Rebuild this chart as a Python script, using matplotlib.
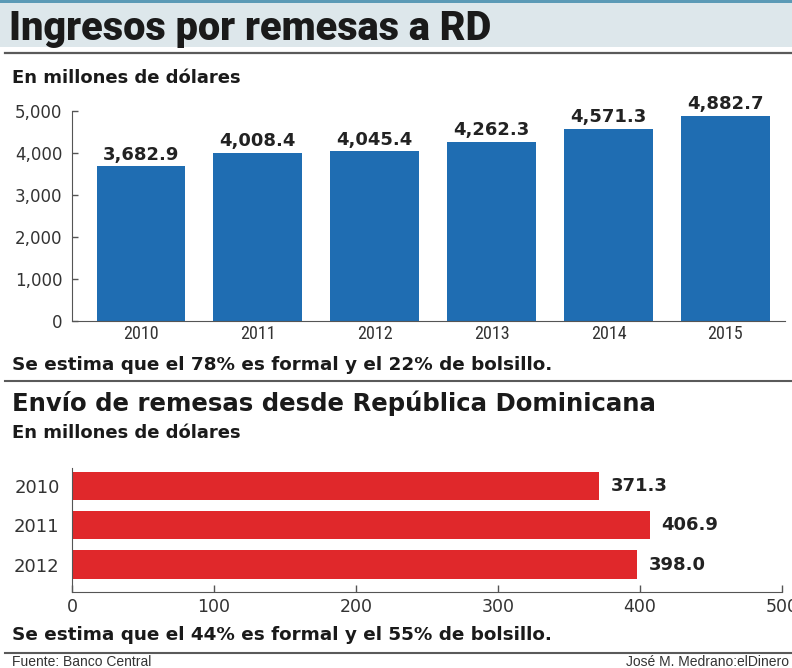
import matplotlib
matplotlib.use("Agg")
from matplotlib import pyplot as plt
from matplotlib.patches import Rectangle
from matplotlib.lines import Line2D

# datos
years_in = ["2010", "2011", "2012", "2013", "2014", "2015"]
values_in = [3682.9, 4008.4, 4045.4, 4262.3, 4571.3, 4882.7]
years_out = ["2010", "2011", "2012"]
values_out = [371.3, 406.9, 398.0]
yticks_in = [0, 1000, 2000, 3000, 4000, 5000]
xticks_out = [0, 100, 200, 300, 400, 500]

plt.rcParams["font.family"] = ["DejaVu Sans"]
HEAD = ["DejaVu Sans"]
NUM = ["DejaVu Sans"]
COND = ["Roboto Condensed", "DejaVu Sans"]
FOOT = ["Liberation Sans", "DejaVu Sans"]
INK = "#1a1a1a"

W, H = 792, 668
fig = plt.figure(figsize=(W / 100, H / 100), dpi=100)
fig.patch.set_facecolor("white")

def fy(py):
    return 1 - py / H

def fx(px):
    return px / W

# cabecera
fig.patches.append(Rectangle((0, fy(47)), 1, fy(3) - fy(47), transform=fig.transFigure,
                             facecolor="#dde7eb", edgecolor="none", zorder=0))
fig.patches.append(Rectangle((0, fy(3)), 1, fy(0) - fy(3), transform=fig.transFigure,
                             facecolor="#5b9ab6", edgecolor="none", zorder=0))
fig.text(fx(9), fy(40), "Ingresos por remesas a RD", fontsize=28.5, fontweight="black",
         family=["Roboto", "DejaVu Sans"], color=INK, va="baseline", ha="left")
for ly, lw in [(53, 1.6), (381, 1.5), (653, 1.5)]:
    fig.add_artist(Line2D([fx(5), 1], [fy(ly), fy(ly)], transform=fig.transFigure,
                          color="#5a5a5a", lw=lw))

fig.text(fx(12), fy(83), "En millones de dólares", fontsize=13, fontweight="bold",
         family=HEAD, color=INK, va="baseline")

# grafico superior
ax1 = fig.add_axes([fx(72), fy(321), fx(785) - fx(72), fy(111) - fy(321)])
x = range(len(years_in))
ax1.bar(x, values_in, width=0.76, color="#1f6db2")
ax1.set_xlim(-0.59, 5.51)
ax1.set_ylim(0, 5000)
ax1.set_yticks(yticks_in)
ax1.set_yticklabels([f"{v:,}" for v in yticks_in], fontsize=12, color="#333333", family=NUM)
ax1.set_xticks(list(x))
ax1.set_xticklabels(years_in, fontsize=13, color="#333333", family=COND)
ax1.tick_params(axis="y", direction="in", length=4, width=1, color="#555555", pad=7)
ax1.tick_params(axis="x", length=0, pad=3)
for s in ["top", "right"]:
    ax1.spines[s].set_visible(False)
ax1.spines["left"].set_color("#555555")
ax1.spines["bottom"].set_color("#555555")
for i, v in enumerate(values_in):
    ax1.text(i, v + 60, f"{v:,.1f}", ha="center", va="bottom", fontsize=13,
             fontweight="bold", family=NUM, color="#222222", clip_on=False)

fig.text(fx(12), fy(370), "Se estima que el 78% es formal y el 22% de bolsillo.",
         fontsize=13.2, fontweight="bold", family=HEAD, color=INK, va="baseline")

fig.text(fx(12), fy(411), "Envío de remesas desde República Dominicana", fontsize=17.6,
         fontweight="bold", family=HEAD, color=INK, va="baseline")
fig.text(fx(12), fy(438), "En millones de dólares", fontsize=13, fontweight="bold",
         family=HEAD, color=INK, va="baseline")

# grafico inferior
ax2 = fig.add_axes([fx(72), fy(592), fx(782) - fx(72), fy(468) - fy(592)])
y = range(len(years_out))
ax2.barh(y, values_out, height=0.72, color="#e0282b")
ax2.set_ylim(2.7, -0.46)
ax2.set_xlim(0, 500)
ax2.set_yticks(list(y))
ax2.set_yticklabels(years_out, fontsize=13, color="#333333", family=NUM)
ax2.set_xticks(xticks_out)
ax2.set_xticklabels([str(v) for v in xticks_out], fontsize=12.5, color="#333333", family=NUM)
ax2.tick_params(axis="y", length=0, pad=9)
ax2.tick_params(axis="x", direction="in", length=5, width=1, color="#555555", pad=4)
for s in ["top", "right"]:
    ax2.spines[s].set_visible(False)
ax2.spines["left"].set_color("#555555")
ax2.spines["bottom"].set_color("#555555")
for i, v in enumerate(values_out):
    ax2.text(v + 8, i, f"{v:.1f}", ha="left", va="center", fontsize=13,
             fontweight="bold", family=NUM, color="#222222")

fig.text(fx(12), fy(640), "Se estima que el 44% es formal y el 55% de bolsillo.",
         fontsize=13.2, fontweight="bold", family=HEAD, color=INK, va="baseline")
fig.text(fx(12), fy(666), "Fuente: Banco Central", fontsize=10, family=FOOT,
         color="#333333", va="baseline")
fig.text(fx(789), fy(666), "José M. Medrano:elDinero", fontsize=10, family=FOOT,
         color="#333333", va="baseline", ha="right")

plt.savefig("out.png", dpi=100, facecolor="white")
plt.close()
